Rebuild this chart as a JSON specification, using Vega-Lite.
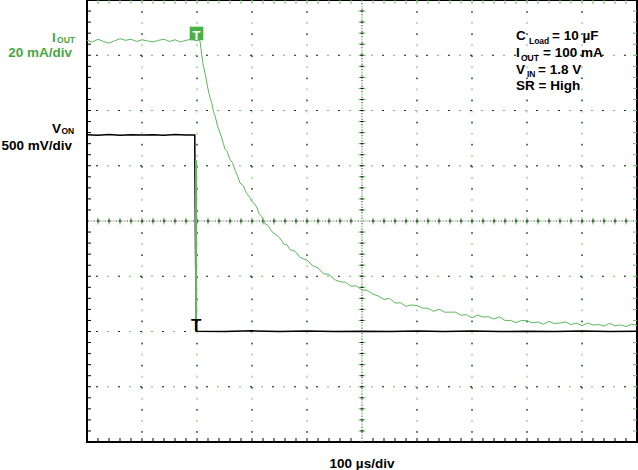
{
  "$schema": "https://vega.github.io/schema/vega-lite/v6.json",
  "width": 550,
  "height": 442,
  "autosize": {"type": "none"},
  "padding": {"left": 87, "top": 0, "right": 1, "bottom": 28},
  "background": "white",
  "config": {
    "view": {"stroke": "#000000", "strokeWidth": 2},
    "text": {"font": "Liberation Sans", "fontWeight": "bold"}
  },
  "datasets": {
    "gridv": [{"x": 1}, {"x": 2}, {"x": 3}, {"x": 4}, {"x": 6}, {"x": 7}, {"x": 8}, {"x": 9}],
    "gridh": [{"y": 1}, {"y": 2}, {"y": 3}, {"y": 5}, {"y": 6}, {"y": 7}],
    "centerv": [{"x": 5}],
    "centerh": [{"y": 4}],
    "hpos": [{"x":0.2},{"x":0.4},{"x":0.6},{"x":0.8},{"x":1.2},{"x":1.4},{"x":1.6},{"x":1.8},{"x":2.2},{"x":2.4},{"x":2.6},{"x":2.8},{"x":3.2},{"x":3.4},{"x":3.6},{"x":3.8},{"x":4.2},{"x":4.4},{"x":4.6},{"x":4.8},{"x":5.2},{"x":5.4},{"x":5.6},{"x":5.8},{"x":6.2},{"x":6.4},{"x":6.6},{"x":6.8},{"x":7.2},{"x":7.4},{"x":7.6},{"x":7.8},{"x":8.2},{"x":8.4},{"x":8.6},{"x":8.8},{"x":9.2},{"x":9.4},{"x":9.6},{"x":9.8},{"x":1},{"x":2},{"x":3},{"x":4},{"x":6},{"x":7},{"x":8},{"x":9}],
    "vpos": [{"y":0.2},{"y":0.4},{"y":0.6},{"y":0.8},{"y":1.2},{"y":1.4},{"y":1.6},{"y":1.8},{"y":2.2},{"y":2.4},{"y":2.6},{"y":2.8},{"y":3.2},{"y":3.4},{"y":3.6},{"y":3.8},{"y":4.2},{"y":4.4},{"y":4.6},{"y":4.8},{"y":5.2},{"y":5.4},{"y":5.6},{"y":5.8},{"y":6.2},{"y":6.4},{"y":6.6},{"y":6.8},{"y":7.2},{"y":7.4},{"y":7.6},{"y":7.8},{"y":1},{"y":2},{"y":3},{"y":5},{"y":6},{"y":7}],
    "von": [
      {"x":0,"y":5.56},{"x":0.2,"y":5.55},{"x":0.4,"y":5.565},{"x":0.6,"y":5.55},{"x":0.8,"y":5.56},{"x":1.0,"y":5.555},{"x":1.2,"y":5.56},{"x":1.4,"y":5.55},{"x":1.6,"y":5.565},{"x":1.8,"y":5.555},{"x":1.96,"y":5.557},{"x":1.961,"y":5.05},{"x":1.985,"y":2.01},
      {"x":2.0,"y":2.005},{"x":2.5,"y":2.0},{"x":3.0,"y":2.012},{"x":3.5,"y":2.002},{"x":4.0,"y":2.008},{"x":4.5,"y":1.998},{"x":5.0,"y":2.006},{"x":5.5,"y":2.0},{"x":6.0,"y":2.01},{"x":6.5,"y":2.002},{"x":7.0,"y":2.007},{"x":7.5,"y":1.999},{"x":8.0,"y":2.006},{"x":8.5,"y":2.0},{"x":9.0,"y":2.009},{"x":9.5,"y":2.001},{"x":10.0,"y":2.005}
    ],
    "edge": [{"x":1.982,"y":5.1},{"x":1.9822,"y":2.03}],
    "iout": [
      {"x":0,"y":7.27},{"x":0.1,"y":7.24},{"x":0.2,"y":7.29},{"x":0.3,"y":7.25},{"x":0.4,"y":7.22},{"x":0.5,"y":7.26},{"x":0.6,"y":7.3},{"x":0.7,"y":7.27},{"x":0.8,"y":7.29},{"x":0.9,"y":7.25},{"x":1.0,"y":7.28},{"x":1.1,"y":7.26},{"x":1.2,"y":7.24},{"x":1.3,"y":7.27},{"x":1.4,"y":7.29},{"x":1.5,"y":7.25},{"x":1.6,"y":7.28},{"x":1.7,"y":7.24},{"x":1.8,"y":7.27},{"x":1.9,"y":7.29},{"x":2.0,"y":7.26},{"x":2.03,"y":7.28},
      {"x":2.055,"y":7.258},{"x":2.085,"y":7.005},{"x":2.109,"y":6.842},{"x":2.145,"y":6.679},{"x":2.17,"y":6.55},{"x":2.2,"y":6.39},{"x":2.235,"y":6.235},{"x":2.267,"y":6.146},{"x":2.3,"y":5.975},{"x":2.327,"y":5.912},{"x":2.37,"y":5.73},{"x":2.418,"y":5.593},{"x":2.46,"y":5.47},{"x":2.509,"y":5.301},{"x":2.55,"y":5.255},{"x":2.6,"y":5.11},{"x":2.645,"y":5.055},{"x":2.691,"y":4.918},{"x":2.74,"y":4.81},{"x":2.782,"y":4.686},{"x":2.84,"y":4.64},{"x":2.904,"y":4.492},{"x":2.95,"y":4.445},{"x":2.995,"y":4.355},{"x":3.04,"y":4.32},{"x":3.085,"y":4.255},{"x":3.13,"y":4.135},{"x":3.176,"y":4.082},{"x":3.23,"y":3.955},{"x":3.291,"y":3.921},{"x":3.35,"y":3.82},{"x":3.418,"y":3.765},{"x":3.5,"y":3.7},{"x":3.582,"y":3.582},{"x":3.64,"y":3.565},{"x":3.691,"y":3.481},{"x":3.78,"y":3.455},{"x":3.873,"y":3.343},{"x":3.95,"y":3.31},
      {"x":4.0,"y":3.29},{"x":4.1,"y":3.195},{"x":4.2,"y":3.15},{"x":4.3,"y":3.045},{"x":4.4,"y":3.03},{"x":4.5,"y":2.94},{"x":4.6,"y":2.9},{"x":4.7,"y":2.89},{"x":4.8,"y":2.82},{"x":4.9,"y":2.825},{"x":5.0,"y":2.75},{"x":5.1,"y":2.745},{"x":5.2,"y":2.675},{"x":5.3,"y":2.64},{"x":5.4,"y":2.58},{"x":5.5,"y":2.6},{"x":5.6,"y":2.515},{"x":5.7,"y":2.52},{"x":5.8,"y":2.455},{"x":5.9,"y":2.48},
      {"x":6.0,"y":2.47},{"x":6.1,"y":2.425},{"x":6.2,"y":2.42},{"x":6.3,"y":2.365},{"x":6.4,"y":2.405},{"x":6.5,"y":2.35},{"x":6.6,"y":2.35},{"x":6.7,"y":2.35},{"x":6.8,"y":2.295},{"x":6.9,"y":2.305},{"x":7.0,"y":2.25},{"x":7.1,"y":2.297},{"x":7.2,"y":2.263},{"x":7.3,"y":2.267},{"x":7.4,"y":2.226},{"x":7.5,"y":2.266},{"x":7.6,"y":2.2},{"x":7.7,"y":2.2},{"x":7.8,"y":2.162},{"x":7.9,"y":2.2},
      {"x":8.0,"y":2.194},{"x":8.1,"y":2.156},{"x":8.2,"y":2.173},{"x":8.3,"y":2.131},{"x":8.4,"y":2.184},{"x":8.5,"y":2.144},{"x":8.6,"y":2.154},{"x":8.7,"y":2.173},{"x":8.8,"y":2.126},{"x":8.9,"y":2.154},{"x":9.0,"y":2.104},{"x":9.1,"y":2.153},{"x":9.2,"y":2.116},{"x":9.3,"y":2.128},{"x":9.4,"y":2.098},{"x":9.5,"y":2.148},{"x":9.6,"y":2.102},{"x":9.7,"y":2.121},{"x":9.8,"y":2.089},{"x":9.9,"y":2.132},{"x":10.0,"y":2.11}
    ],
    "trig": [{"x":1.991,"y":7.394}],
    "trigT": [{"x":1.991,"y":7.276,"t":"T"}],
    "gndT": [{"x":1.985,"y":2.018,"t":"T"}],
    "mainText": [
      {"x":-0.636,"y":7.241,"t":"I","c":"g"},
      {"x":-0.636,"y":5.584,"t":"V","c":"k"},
      {"x":7.8,"y":7.273,"t":"C","c":"k"},
      {"x":8.4545,"y":7.273,"t":"= 10 µF","c":"k"},
      {"x":7.8,"y":6.963,"t":"I","c":"k"},
      {"x":8.291,"y":6.963,"t":"= 100 mA","c":"k"},
      {"x":7.8,"y":6.661,"t":"V","c":"k"},
      {"x":8.2,"y":6.661,"t":"= 1.8 V","c":"k"},
      {"x":7.8,"y":6.368,"t":"SR = High","c":"k"}
    ],
    "subText": [
      {"x":-0.545,"y":7.227,"t":"OUT","c":"g"},
      {"x":-0.4636,"y":5.566,"t":"ON","c":"k"},
      {"x":8.036,"y":7.204,"t":"Load","c":"k"},
      {"x":7.891,"y":6.901,"t":"OUT","c":"k"},
      {"x":8.0,"y":6.612,"t":"IN","c":"k"}
    ],
    "scaleText": [
      {"x":-0.2727,"y":6.96,"t":"20 mA/div","c":"g"},
      {"x":-0.2727,"y":5.285,"t":"500 mV/div","c":"k"}
    ],
    "timeText": [{"x":5,"y":-0.4706,"t":"100 µs/div"}]
  },
  "layer": [
    {"data":{"name":"gridv"},"mark":{"type":"rule","color":"#6cbf64","strokeWidth":1,"strokeDash":[2,9.05]},
     "encoding":{"x":{"field":"x","type":"quantitative","scale":{"domain":[0,10],"nice":false,"zero":false},"axis":null}}},
    {"data":{"name":"gridv"},"mark":{"type":"rule","color":"#000000","strokeWidth":1,"strokeDash":[1.5,20.6],"strokeDashOffset":-11.3},
     "encoding":{"x":{"field":"x","type":"quantitative","scale":{"domain":[0,10],"nice":false,"zero":false},"axis":null}}},
    {"data":{"name":"gridh"},"mark":{"type":"rule","color":"#6cbf64","strokeWidth":1,"strokeDash":[2,9]},
     "encoding":{"y":{"field":"y","type":"quantitative","scale":{"domain":[0,8],"nice":false,"zero":false},"axis":null}}},
    {"data":{"name":"gridh"},"mark":{"type":"rule","color":"#000000","strokeWidth":1,"strokeDash":[1.5,20.5],"strokeDashOffset":-11.25},
     "encoding":{"y":{"field":"y","type":"quantitative","scale":{"domain":[0,8],"nice":false,"zero":false},"axis":null}}},
    {"data":{"name":"centerv"},"mark":{"type":"rule","color":"#6cbf64","strokeWidth":1,"strokeDash":[2,3.5]},
     "encoding":{"x":{"field":"x","type":"quantitative","scale":{"domain":[0,10],"nice":false,"zero":false},"axis":null}}},
    {"data":{"name":"centerv"},"mark":{"type":"rule","color":"#000000","strokeWidth":1,"strokeDash":[1,4.5],"strokeDashOffset":-3.2},
     "encoding":{"x":{"field":"x","type":"quantitative","scale":{"domain":[0,10],"nice":false,"zero":false},"axis":null}}},
    {"data":{"name":"centerh"},"mark":{"type":"rule","color":"#6cbf64","strokeWidth":1,"strokeDash":[2,3.5]},
     "encoding":{"y":{"field":"y","type":"quantitative","scale":{"domain":[0,8],"nice":false,"zero":false},"axis":null}}},
    {"data":{"name":"centerh"},"mark":{"type":"rule","color":"#000000","strokeWidth":1,"strokeDash":[1,4.5],"strokeDashOffset":-3.2},
     "encoding":{"y":{"field":"y","type":"quantitative","scale":{"domain":[0,8],"nice":false,"zero":false},"axis":null}}},
    {"data":{"name":"hpos"},"mark":{"type":"tick","orient":"vertical","size":7,"thickness":1,"color":"#6cbf64","opacity":1},
     "encoding":{"x":{"field":"x","type":"quantitative","scale":{"domain":[0,10],"nice":false,"zero":false},"axis":null},
                 "y":{"datum":4,"type":"quantitative","scale":{"domain":[0,8],"nice":false,"zero":false},"axis":null}}},
    {"data":{"name":"hpos"},"mark":{"type":"tick","orient":"vertical","size":3,"thickness":1,"color":"#000000","opacity":1},
     "encoding":{"x":{"field":"x","type":"quantitative","scale":{"domain":[0,10],"nice":false,"zero":false},"axis":null},
                 "y":{"datum":4,"type":"quantitative","scale":{"domain":[0,8],"nice":false,"zero":false},"axis":null}}},
    {"data":{"name":"vpos"},"mark":{"type":"tick","orient":"horizontal","size":7,"thickness":1,"color":"#6cbf64","opacity":1},
     "encoding":{"y":{"field":"y","type":"quantitative","scale":{"domain":[0,8],"nice":false,"zero":false},"axis":null},
                 "x":{"datum":5,"type":"quantitative","scale":{"domain":[0,10],"nice":false,"zero":false},"axis":null}}},
    {"data":{"name":"vpos"},"mark":{"type":"tick","orient":"horizontal","size":3,"thickness":1,"color":"#000000","opacity":1},
     "encoding":{"y":{"field":"y","type":"quantitative","scale":{"domain":[0,8],"nice":false,"zero":false},"axis":null},
                 "x":{"datum":5,"type":"quantitative","scale":{"domain":[0,10],"nice":false,"zero":false},"axis":null}}},
    {"data":{"name":"hpos"},"mark":{"type":"tick","orient":"vertical","size":4,"thickness":1,"color":"#000000","opacity":1,"yOffset":-2},
     "encoding":{"x":{"field":"x","type":"quantitative","scale":{"domain":[0,10],"nice":false,"zero":false},"axis":null},
                 "y":{"datum":0,"type":"quantitative","scale":{"domain":[0,8],"nice":false,"zero":false},"axis":null}}},
    {"data":{"name":"hpos"},"mark":{"type":"tick","orient":"vertical","size":4,"thickness":1,"color":"#6cbf64","opacity":1,"yOffset":2},
     "encoding":{"x":{"field":"x","type":"quantitative","scale":{"domain":[0,10],"nice":false,"zero":false},"axis":null},
                 "y":{"datum":8,"type":"quantitative","scale":{"domain":[0,8],"nice":false,"zero":false},"axis":null}}},
    {"data":{"name":"vpos"},"mark":{"type":"tick","orient":"horizontal","size":4,"thickness":1,"color":"#000000","opacity":1,"xOffset":2},
     "encoding":{"y":{"field":"y","type":"quantitative","scale":{"domain":[0,8],"nice":false,"zero":false},"axis":null},
                 "x":{"datum":0,"type":"quantitative","scale":{"domain":[0,10],"nice":false,"zero":false},"axis":null}}},
    {"data":{"name":"vpos"},"mark":{"type":"tick","orient":"horizontal","size":4,"thickness":1,"color":"#6cbf64","opacity":1,"xOffset":-2},
     "encoding":{"y":{"field":"y","type":"quantitative","scale":{"domain":[0,8],"nice":false,"zero":false},"axis":null},
                 "x":{"datum":10,"type":"quantitative","scale":{"domain":[0,10],"nice":false,"zero":false},"axis":null}}},
    {"data":{"name":"von"},"mark":{"type":"line","color":"#000000","strokeWidth":1.5,"interpolate":"linear"},
     "encoding":{"x":{"field":"x","type":"quantitative","scale":{"domain":[0,10],"nice":false,"zero":false},"axis":null},
                 "y":{"field":"y","type":"quantitative","scale":{"domain":[0,8],"nice":false,"zero":false},"axis":null}}},
    {"data":{"name":"edge"},"mark":{"type":"line","color":"#5cb85c","strokeWidth":2},
     "encoding":{"x":{"field":"x","type":"quantitative","scale":{"domain":[0,10],"nice":false,"zero":false},"axis":null},
                 "y":{"field":"y","type":"quantitative","scale":{"domain":[0,8],"nice":false,"zero":false},"axis":null}}},
    {"data":{"name":"iout"},"mark":{"type":"line","color":"#5cb85c","strokeWidth":1},
     "encoding":{"x":{"field":"x","type":"quantitative","scale":{"domain":[0,10],"nice":false,"zero":false},"axis":null},
                 "y":{"field":"y","type":"quantitative","scale":{"domain":[0,8],"nice":false,"zero":false},"axis":null}}},
    {"data":{"name":"trig"},"mark":{"type":"square","size":185,"color":"#4caf47","opacity":1,"filled":true},
     "encoding":{"x":{"field":"x","type":"quantitative","scale":{"domain":[0,10],"nice":false,"zero":false},"axis":null},
                 "y":{"field":"y","type":"quantitative","scale":{"domain":[0,8],"nice":false,"zero":false},"axis":null}}},
    {"data":{"name":"trigT"},"mark":{"type":"text","fontSize":13,"color":"#ffffff","align":"center","baseline":"alphabetic"},
     "encoding":{"x":{"field":"x","type":"quantitative","scale":{"domain":[0,10],"nice":false,"zero":false},"axis":null},
                 "y":{"field":"y","type":"quantitative","scale":{"domain":[0,8],"nice":false,"zero":false},"axis":null},
                 "text":{"field":"t"}}},
    {"data":{"name":"gndT"},"mark":{"type":"text","fontSize":17,"color":"#000000","align":"center","baseline":"alphabetic"},
     "encoding":{"x":{"field":"x","type":"quantitative","scale":{"domain":[0,10],"nice":false,"zero":false},"axis":null},
                 "y":{"field":"y","type":"quantitative","scale":{"domain":[0,8],"nice":false,"zero":false},"axis":null},
                 "text":{"field":"t"}}},
    {"data":{"name":"mainText"},"mark":{"type":"text","fontSize":13.5,"align":"left","baseline":"alphabetic"},
     "encoding":{"x":{"field":"x","type":"quantitative","scale":{"domain":[0,10],"nice":false,"zero":false},"axis":null},
                 "y":{"field":"y","type":"quantitative","scale":{"domain":[0,8],"nice":false,"zero":false},"axis":null},
                 "text":{"field":"t"},
                 "color":{"field":"c","type":"nominal","scale":{"domain":["g","k"],"range":["#46a846","#000000"]},"legend":null}}},
    {"data":{"name":"subText"},"mark":{"type":"text","fontSize":8.5,"align":"left","baseline":"alphabetic"},
     "encoding":{"x":{"field":"x","type":"quantitative","scale":{"domain":[0,10],"nice":false,"zero":false},"axis":null},
                 "y":{"field":"y","type":"quantitative","scale":{"domain":[0,8],"nice":false,"zero":false},"axis":null},
                 "text":{"field":"t"},
                 "color":{"field":"c","type":"nominal","scale":{"domain":["g","k"],"range":["#46a846","#000000"]},"legend":null}}},
    {"data":{"name":"scaleText"},"mark":{"type":"text","fontSize":13.5,"align":"right","baseline":"alphabetic"},
     "encoding":{"x":{"field":"x","type":"quantitative","scale":{"domain":[0,10],"nice":false,"zero":false},"axis":null},
                 "y":{"field":"y","type":"quantitative","scale":{"domain":[0,8],"nice":false,"zero":false},"axis":null},
                 "text":{"field":"t"},
                 "color":{"field":"c","type":"nominal","scale":{"domain":["g","k"],"range":["#46a846","#000000"]},"legend":null}}},
    {"data":{"name":"timeText"},"mark":{"type":"text","fontSize":13.5,"align":"center","baseline":"alphabetic","color":"#000000"},
     "encoding":{"x":{"field":"x","type":"quantitative","scale":{"domain":[0,10],"nice":false,"zero":false},"axis":null},
                 "y":{"field":"y","type":"quantitative","scale":{"domain":[0,8],"nice":false,"zero":false},"axis":null},
                 "text":{"field":"t"}}}
  ]
}
